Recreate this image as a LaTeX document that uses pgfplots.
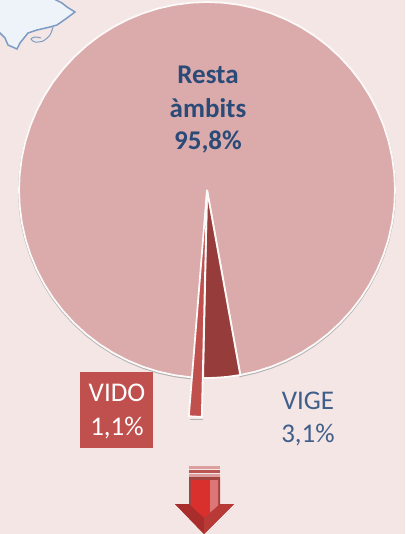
\documentclass[border=0pt]{standalone}
\usepackage{fontspec}
\setmainfont{Carlito}
\usepackage{pgfplots}
\usepackage{pgfplotstable}
\pgfplotsset{compat=1.18}
\definecolor{bgc}{HTML}{F5E6E6}
\definecolor{mainc}{HTML}{DBAAAA}
\definecolor{vigec}{HTML}{963C3A}
\definecolor{vidoc}{HTML}{C0504D}
\definecolor{txtc}{HTML}{2A4A78}
\definecolor{txtb}{HTML}{3F5F8A}
\definecolor{mapl}{HTML}{7C9CC4}
\definecolor{mapf}{HTML}{EEF3FA}
\pgfplotstableread[row sep=\\]{
a r\\ 0 0\\ 10.2 188\\ 15 188\\ 20 188\\ 25 188\\ 30 188\\ 35 188\\ 40 188\\ 45 188\\ 50 188\\ 55 188\\ 60 188\\
65 188\\ 70 188\\ 75 188\\ 80 188\\ 85 188\\ 90 188\\ 95 188\\ 100 188\\ 105 188\\ 110 188\\ 115 188\\ 120 188\\
125 188\\ 130 188\\ 135 188\\ 140 188\\ 145 188\\ 150 188\\ 155 188\\ 160 188\\ 165 188\\ 170 188\\ 175 188\\ 180 188\\
185 188\\ 190 188\\ 195 188\\ 200 188\\ 205 188\\ 210 188\\ 215 188\\ 220 188\\ 225 188\\ 230 188\\ 235 188\\ 240 188\\
245 188\\ 250 188\\ 255 188\\ 260 188\\ 265 188\\ 270 188\\ 275 188\\ 280 188\\ 285 188\\ 290 188\\ 295 188\\ 300 188\\
305 188\\ 310 188\\ 315 188\\ 320 188\\ 325 188\\ 330 188\\ 335 188\\ 340 188\\ 345 188\\ 350 188\\ 355 188\\ 358.8 188\\ 0 0\\
}\mainslice
\pgfplotstableread[row sep=\\]{
a r\\ 0 0\\ -1.2 188\\ 2 188\\ 6 188\\ 10.2 188\\ 0 0\\
}\vigeslice
\pgfplotstableread[row sep=\\]{
a r\\ 0 0\\ -4.6 227\\ -1.3 227\\ 0 0\\
}\vidoslice
\pgfplotsset{table/pie/.style={x expr={207+\thisrow{r}*sin(\thisrow{a})}, y expr={190+\thisrow{r}*cos(\thisrow{a})}}}
\begin{document}
\begin{tikzpicture}
\begin{axis}[hide axis, scale only axis, width=405pt, height=534pt,
  xmin=0, xmax=405, ymin=0, ymax=534, y dir=reverse, clip=true]
% background
\addplot[draw=none, fill=bgc] coordinates {(0,0) (405,0) (405,534) (0,534)} -- cycle;
% map fragment
\addplot[draw=mapl, line width=1.5pt, fill=mapf] coordinates {
(52,-2) (62,3) (67,7) (75,12) (67,18) (57,25) (50,27) (37,30) (28,33) (20,43) (17,49) (8,45) (5,38) (0,33) (-3,33) (-3,-2)};
\addplot[draw=mapl, line width=1pt, smooth] coordinates {
(53,27) (50,35) (43,41) (35,42) (31,39) (35,37) (41,38)};
% shadow and pie
\addplot[draw=gray!60, line width=2pt, fill=none]
  table[x expr={207+\thisrow{r}*sin(\thisrow{a})}, y expr={191+\thisrow{r}*cos(\thisrow{a})}] {\mainslice};
\addplot[draw=white!75!bgc, line width=1.8pt, fill=mainc] table[pie] {\mainslice};
\addplot[draw=white!75!bgc, line width=1.8pt, fill=vigec] table[pie] {\vigeslice};
\addplot[draw=gray!60, line width=1.5pt, fill=none] coordinates {(189.8,419.5) (203,419.5)};
\addplot[draw=white!75!bgc, line width=1.8pt, fill=vidoc] table[pie] {\vidoslice};
% arrow
\addplot[draw=none, fill=vidoc!55!white] coordinates {(189,466) (220,466) (220,469) (189,469)} -- cycle;
\addplot[draw=none, fill=vidoc!90!gray] coordinates {(189,470) (220,470) (220,473) (189,473)} -- cycle;
\addplot[draw=none, fill=vidoc!55!white] coordinates {(189,474) (220,474) (220,477) (189,477)} -- cycle;
\addplot[draw=none, fill=vidoc!85!black] coordinates {(189,477) (220,477) (220,504) (234,504) (204,534) (175,504) (189,504)} -- cycle;
\addplot[draw=none, fill=red!40!vidoc] coordinates {(191,480) (210,480) (210,520) (204,524) (191,510)} -- cycle;
\addplot[draw=none, fill=red!25!vidoc!70!white] coordinates {(210,480) (218,480) (218,506) (210,515)} -- cycle;
\addplot[draw=none, fill=vidoc!70!red!80!black] coordinates {(175,504) (189,504) (204,518) (204,534)} -- cycle;
\addplot[draw=none, fill=vidoc!80!red!90!black] coordinates {(234,504) (220,504) (204,518) (204,534)} -- cycle;
% labels
\node[font=\fontsize{27}{27}\selectfont\bfseries, text=txtc, anchor=center] at (axis cs:208,75) {Resta};
\node[font=\fontsize{27}{27}\selectfont\bfseries, text=txtc, anchor=center] at (axis cs:208,108) {àmbits};
\node[font=\fontsize{27}{27}\selectfont\bfseries, text=txtc, anchor=center] at (axis cs:208,142) {95,8\%};
\addplot[draw=none, fill=vidoc] coordinates {(80,372) (153,372) (153,448) (80,448)} -- cycle;
\node[font=\fontsize{27}{27}\selectfont, text=white!95!bgc, anchor=center] at (axis cs:117,393) {VIDO};
\node[font=\fontsize{27}{27}\selectfont, text=white!95!bgc, anchor=center] at (axis cs:117,428) {1,1\%};
\node[font=\fontsize{27}{27}\selectfont, text=txtb, anchor=center] at (axis cs:308,401) {VIGE};
\node[font=\fontsize{27}{27}\selectfont, text=txtb, anchor=center] at (axis cs:308,435) {3,1\%};
\end{axis}
\end{tikzpicture}
\end{document}
